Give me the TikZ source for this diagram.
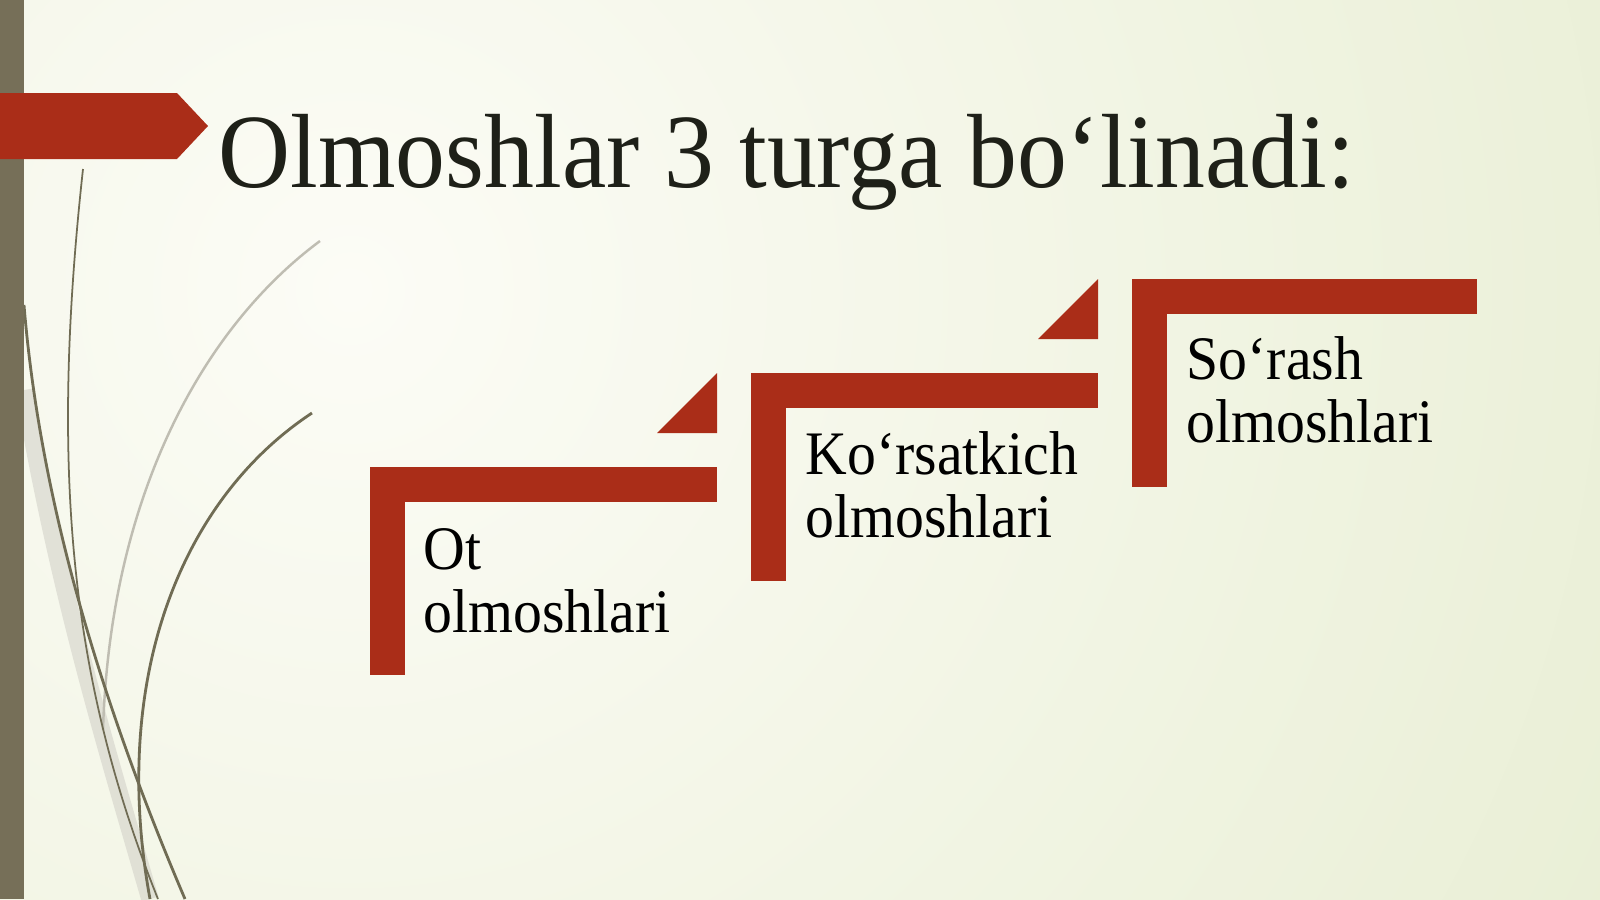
\documentclass[tikz,border=0pt]{standalone}
\usepackage{fontspec}
\setmainfont{Liberation Serif}
\usepackage{tikz}
\usetikzlibrary{positioning}
\definecolor{stepred}{RGB}{170,45,24}
\definecolor{sidebar}{RGB}{118,111,88}
\definecolor{grassgray}{RGB}{112,108,84}
\definecolor{bginner}{RGB}{252,252,246}
\definecolor{bgouter}{RGB}{219,229,189}
\definecolor{inkdark}{RGB}{30,32,24}

\begin{document}
\begin{tikzpicture}[
		x=0.01cm, y=-0.01cm,
		stepbar/.style = {
			fill=stepred
		},
		grass/.style = {
			draw=grassgray, line width=0.8pt
		},
		steptext/.style = {
			anchor=base west, align=left,
			inner sep=0pt, xscale=0.933,
			text=black,
			font=\fontsize{17.6}{17.7}\selectfont
		}
	]
	% background
	\useasboundingbox (0,0) rectangle (1600,899);
	\fill[bgouter] (0,0) rectangle (1600,899);
	\begin{scope}
		\clip (0,0) rectangle (1600,899);
		\shade[inner color=bginner, outer color=bgouter] (350,290) circle (2500);
	\end{scope}

	% grass strokes on the left
	\draw[grassgray!35, line width=5pt, opacity=0.5] (24,390) .. controls (60,600) and (110,760) .. (150,899);
	\draw[grassgray!45, line width=0.7pt] (320,241) .. controls (200,330) and (110,500) .. (103,730);
	\draw[grass, line width=0.5pt] (83,169) .. controls (50,470) and (70,680) .. (158,899);
	\draw[grass] (24,305) .. controls (40,500) and (100,700) .. (185,899);
	\draw[grass] (312,413) .. controls (180,500) and (110,680) .. (150,899);

	% side bar and title banner
	\fill[sidebar] (0,0) rectangle (24,899);
	\fill[stepred] (0,93) -- (177,93) -- (208,126) -- (177,159) -- (0,159) -- cycle;
	\node[anchor=base west, inner sep=0pt, xscale=0.945, text=inkdark,
		font=\fontsize{30}{36}\selectfont] (title) at (218,187)
		{Olmoshlar 3 turga bo‘linadi:};

	% steps
	\coordinate (step1) at (370,467);
	\coordinate (step2) at (751,373);
	\coordinate (step3) at (1132,279);

	\fill[stepbar] (step1) rectangle ++(35,208);
	\fill[stepbar] (step1) rectangle ++(347,35);
	\fill[stepbar] ([shift={(347,-34)}]step1) -- ++(0,-60) -- ++(-60,60) -- cycle;

	\fill[stepbar] (step2) rectangle ++(35,208);
	\fill[stepbar] (step2) rectangle ++(347,35);
	\fill[stepbar] ([shift={(347,-34)}]step2) -- ++(0,-60) -- ++(-60,60) -- cycle;

	\fill[stepbar] (step3) rectangle ++(35,208);
	\fill[stepbar] (step3) rectangle ++(345,35);

	\node[steptext] (ot) at ([shift={(53,165)}]step1) {Ot\\olmoshlari};
	\node[steptext] (korsat) at ([shift={(54,164)}]step2) {Ko‘rsatkich\\olmoshlari};
	\node[steptext] (sorash) at ([shift={(54,163)}]step3) {So‘rash\\olmoshlari};
\end{tikzpicture}
\end{document}
